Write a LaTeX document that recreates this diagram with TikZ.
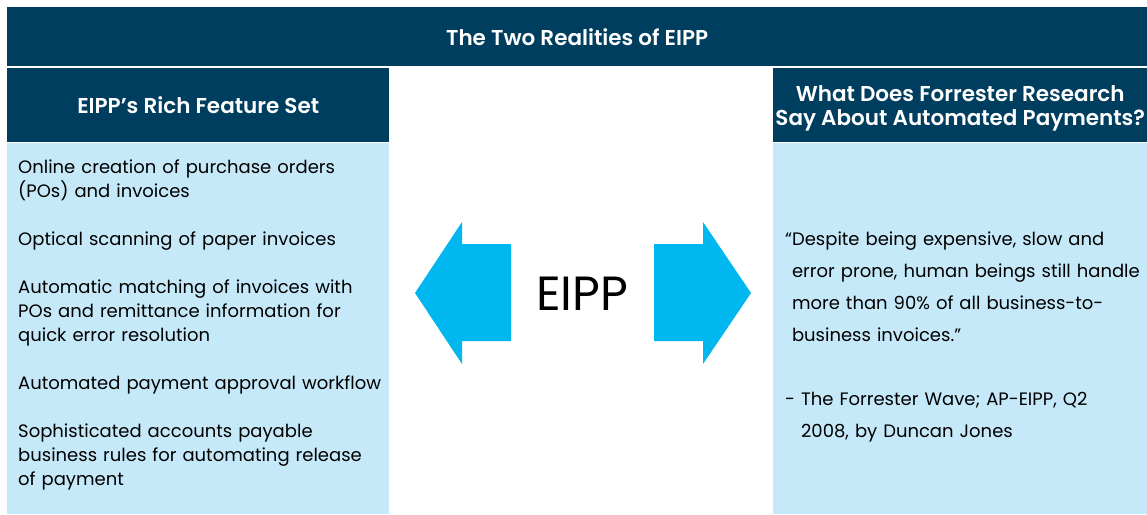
\documentclass[tikz,border=0pt]{standalone}
\usepackage{fontspec}
\setmainfont{Poppins}
\newfontfamily\headfont{Poppins}[UprightFont=* SemiBold]
\usetikzlibrary{positioning}

\definecolor{eippnavy}{RGB}{0,62,95}
\definecolor{eipppale}{RGB}{198,233,249}
\definecolor{eippcyan}{RGB}{0,183,239}

\tikzset{
	headbox/.style={fill=eippnavy, text=white, inner sep=0, align=center,
		font=\headfont\fontsize{21.5}{24}\selectfont},
	bodybox/.style={fill=eipppale, inner sep=0, anchor=north west},
	bodytext/.style={anchor=base west, inner sep=0, align=left, text width=#1,
		font=\fontsize{18}{24}\selectfont},
	quotetext/.style={anchor=base west, inner sep=0, align=left, text width=#1,
		font=\fontsize{18}{32}\selectfont}
}

\begin{document}
\begin{tikzpicture}[x=1pt,y=-1pt]
	\useasboundingbox[fill=white] (0,0) rectangle (1147,514);
	
	% title band and column heads
	\node[headbox, anchor=north west, minimum width=1140, minimum height=59] (title) at (7,7) {The Two Realities of EIPP};
	\node[headbox, anchor=north west, minimum width=382, minimum height=74] (lhead) at (7,68) {EIPP’s Rich Feature Set};
	\node[headbox, anchor=north west, minimum width=374, minimum height=74, text depth=0pt] (rhead) at (773,68) {What Does Forrester Research\\Say About Automated Payments?};
	
	% column bodies
	\node[bodybox, minimum width=382, minimum height=371] (lbody) at (7,143) {};
	\node[bodybox, minimum width=374, minimum height=371] (rbody) at (773,143) {};
	
	\node[bodytext=380] (features) at (18,173) {Online creation of purchase orders\\(POs) and invoices\\[24pt]
		Optical scanning of paper invoices\\[24pt]
		Automatic matching of invoices with\\POs and remittance information for\\quick error resolution\\[24pt]
		Automated payment approval workflow\\[24pt]
		Sophisticated accounts payable\\business rules for automating release\\of payment};
	
	\node[quotetext=360] (quote) at (785,245) {“Despite being expensive, slow and\\
		\hphantom{“}error prone, human beings still handle\\
		\hphantom{“}more than 90\% of all business-to-\\
		\hphantom{“}business invoices.”\\[32pt]
		- The Forrester Wave; AP-EIPP, Q2\\
		\hphantom{- }2008, by Duncan Jones};
	
	% arrows
	\fill[eippcyan] (415,293) -- (462,222) -- (462,244) -- (511,244) -- (511,341) -- (462,341) -- (462,364) -- cycle;
	\fill[eippcyan] (751,293) -- (703,222) -- (703,244) -- (654,244) -- (654,341) -- (703,341) -- (703,364) -- cycle;
	\node[font=\fontsize{48}{48}\selectfont, inner sep=0] (eipp) at (582,294) {EIPP};
	
\end{tikzpicture}
\end{document}
